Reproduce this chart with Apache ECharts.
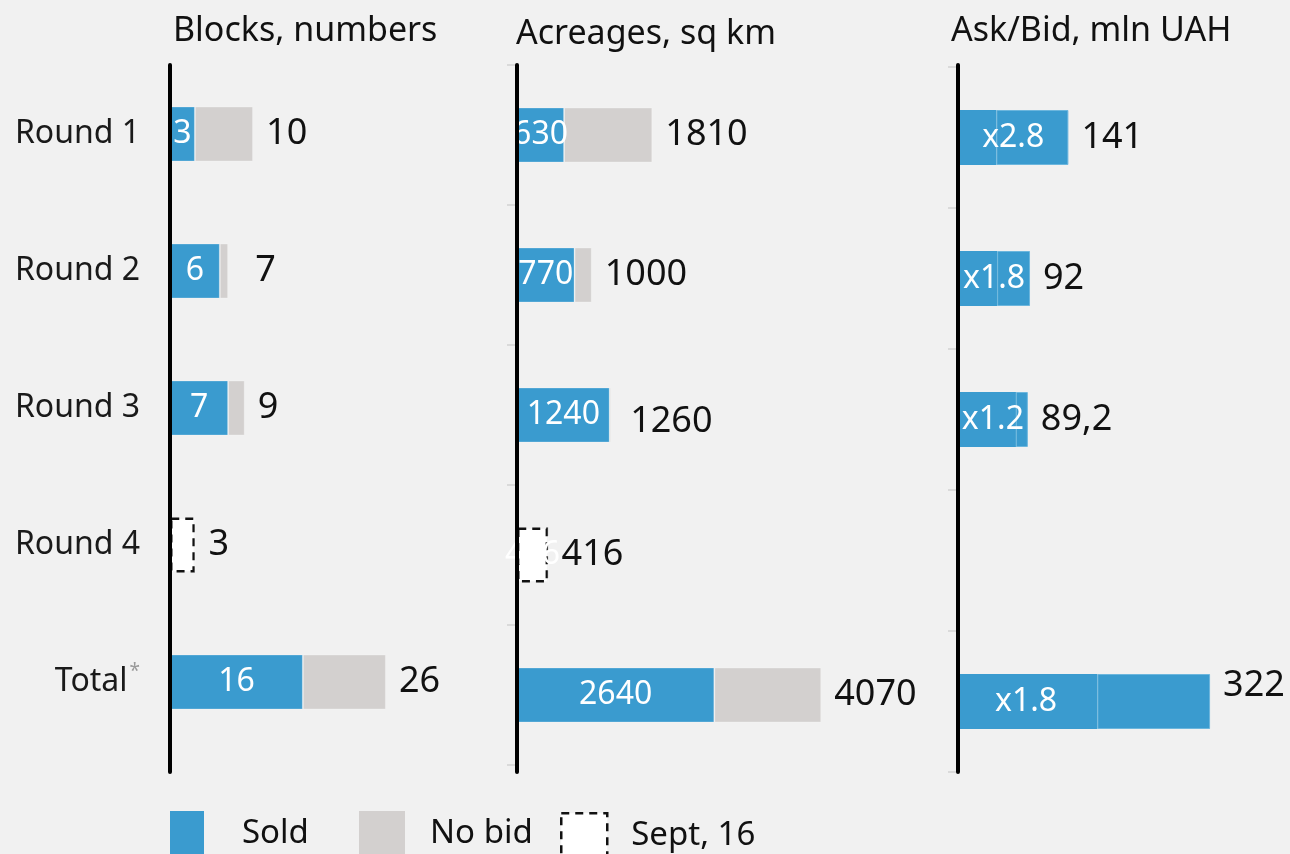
<!DOCTYPE html>
<html>
<head>
<meta charset="utf-8">
<title>Auction rounds</title>
<script src="https://cdn.jsdelivr.net/npm/echarts@6/dist/echarts.min.js"></script>
<style>
  html, body { margin: 0; padding: 0; background: #f1f1f1; }
  #chart { width: 1290px; height: 854px; }
</style>
</head>
<body>
<div id="chart"></div>
<script>
const categories = ['Round 1', 'Round 2', 'Round 3', 'Round 4', 'Total']

// Blocks, numbers
const blocksSold = [3, 6, 7, '-', 16]
const blocksNoBid = [7, 1, 2, 0, 10]
const blocksSept = ['-', '-', '-', 3, '-']
const blocksTotal = [10, 7, 9, 3, 26]

// Acreages, sq km
const acreSold = [630, 770, 1240, '-', 2640]
const acreNoBid = [1180, 230, 20, 0, 1430]
const acreSept = ['-', '-', '-', 416, '-']
const acreTotal = [1810, 1000, 1260, 416, 4070]

// Ask/Bid, mln UAH
const askStart = [49, 50, 74, '-', 178]
const bidTotal = [141, 92, 89.2, '-', 322]
const bidRatio = ['x2.8', 'x1.8', 'x1.2', '', 'x1.8']

const FONT = '"Noto Sans", "DejaVu Sans", sans-serif'
const BLUE = '#3a9bcf'
const GREY = '#d3d0cf'
const BAR_W = 55

const fmtNum = (v) => String(v).replace('.', ',')

const chart = echarts.init(document.getElementById('chart'))

// small per-bar nudges for the total labels, as in the original layout
const labelNudge = {
  '0-1': [14, 0],
  '1-2': [6, 7],
  '2-4': [0, -16],
}

const valueLabel = (panel, totals) => ({
  show: true,
  position: 'right',
  distance: 13,
  fontFamily: FONT,
  fontSize: 36,
  color: '#111',
  formatter: (p) => fmtNum(totals[p.dataIndex]),
})

const insideLabel = {
  show: true,
  position: 'inside',
  fontFamily: FONT,
  fontSize: 32,
  color: '#fff',
}

const withNudge = (panel, values) =>
  values.map((v, i) => {
    const off = labelNudge[panel + '-' + i]
    return off ? { value: v, label: { offset: off } } : v
  })

const soldStyle = { color: BLUE, borderColor: 'rgba(255,255,255,0.25)', borderWidth: 1 }
const noBidStyle = { color: GREY, borderColor: 'rgba(255,255,255,0.25)', borderWidth: 1 }
const septStyle = { color: '#fff', borderColor: '#111', borderWidth: 2.5, borderType: [8, 6] }

// three panels of bars + three grids holding only the black axis line
const barGrids = [
  { left: 170, top: 65.5, width: 328, height: 685 },
  { left: 517, top: 65, width: 370, height: 700 },
  { left: 958, top: 67, width: 310, height: 705 },
]
const lineX = [170, 517, 958]

const grid = barGrids.concat(lineX.map((x) => ({ left: x, top: 65, width: 10, height: 707 })))

const xAxis = [
  { gridIndex: 0, type: 'value', min: 0, max: 39.5, show: false },
  { gridIndex: 1, type: 'value', min: 0, max: 4950, show: false },
  { gridIndex: 2, type: 'value', min: 0, max: 396, show: false },
].concat(lineX.map((x, i) => ({ gridIndex: 3 + i, type: 'value', min: 0, max: 1, show: false })))

const catAxis = (i, showLabels, showTicks) => ({
  gridIndex: i,
  type: 'category',
  data: categories,
  inverse: true,
  axisLine: { show: false },
  axisTick: { show: showTicks, length: 10, lineStyle: { color: '#dadada', width: 2 } },
  splitLine: { show: false },
  axisLabel: {
    show: showLabels,
    margin: 30,
    fontFamily: FONT,
    fontSize: 32,
    color: '#1a1a1a',
    formatter: (v) => (v === 'Total' ? '{a|Total}{s|*}' : '{a|' + v + '}'),
    rich: {
      a: { fontFamily: FONT, fontSize: 32, color: '#1a1a1a' },
      s: { fontFamily: FONT, fontSize: 19, color: '#999', padding: [0, 0, 20, 2] },
    },
  },
})

const yAxis = [catAxis(0, true, false), catAxis(1, false, true), catAxis(2, false, true)].concat(
  lineX.map((x, i) => ({
    gridIndex: 3 + i,
    type: 'value',
    min: 0,
    max: 1,
    z: 10,
    axisLine: { show: true, onZero: false, lineStyle: { color: '#000', width: 4 } },
    axisTick: { show: false },
    axisLabel: { show: false },
    splitLine: { show: false },
  }))
)

const stackedPanel = (idx, sold, noBid, sept, totals) => [
  {
    name: 'Sold',
    type: 'bar',
    xAxisIndex: idx,
    yAxisIndex: idx,
    stack: 'p' + idx,
    barWidth: BAR_W,
    data: sold,
    itemStyle: soldStyle,
    label: insideLabel,
  },
  {
    name: 'Sept, 16',
    type: 'bar',
    xAxisIndex: idx,
    yAxisIndex: idx,
    stack: 'p' + idx,
    barWidth: BAR_W,
    data: sept,
    itemStyle: septStyle,
    label: insideLabel,
  },
  {
    name: 'No bid',
    type: 'bar',
    xAxisIndex: idx,
    yAxisIndex: idx,
    stack: 'p' + idx,
    barWidth: BAR_W,
    data: withNudge(idx, noBid),
    itemStyle: noBidStyle,
    label: valueLabel(idx, totals),
  },
]

const bidRest = bidTotal.map((t, i) => (t === '-' ? '-' : +(t - askStart[i]).toFixed(1)))

const series = [
  ...stackedPanel(0, blocksSold, blocksNoBid, blocksSept, blocksTotal),
  ...stackedPanel(1, acreSold, acreNoBid, acreSept, acreTotal),
  {
    name: 'Sold',
    type: 'bar',
    xAxisIndex: 2,
    yAxisIndex: 2,
    stack: 'bid',
    barWidth: BAR_W,
    barGap: '-100%',
    data: askStart,
    itemStyle: { color: BLUE },
  },
  {
    name: 'Sold',
    type: 'bar',
    xAxisIndex: 2,
    yAxisIndex: 2,
    stack: 'bid',
    barWidth: BAR_W,
    barGap: '-100%',
    data: withNudge(2, bidRest),
    itemStyle: { color: BLUE, borderColor: '#6cb6dd', borderWidth: 1 },
    label: {
      ...valueLabel(2, bidTotal),
      formatter: (p) => (bidTotal[p.dataIndex] === '-' ? '' : fmtNum(bidTotal[p.dataIndex])),
    },
  },
  {
    name: 'ratio',
    type: 'bar',
    xAxisIndex: 2,
    yAxisIndex: 2,
    barWidth: BAR_W,
    barGap: '-100%',
    z: 3,
    data: bidTotal.map((v, i) => ({
      value: v,
      label: i === 4 ? { offset: [-58, 0] } : undefined,
    })),
    itemStyle: { color: 'rgba(0,0,0,0)' },
    label: { ...insideLabel, formatter: (p) => bidRatio[p.dataIndex] },
    tooltip: { show: false },
  },
]

const titleStyle = { fontFamily: FONT, fontSize: 34, fontWeight: 'normal', color: '#111' }
const legendText = (pad) => ({ fontFamily: FONT, fontSize: 33, color: '#111', padding: [0, 0, 0, pad] })

const option = {
  backgroundColor: '#f1f1f1',
  animation: false,
  title: [
    { text: 'Blocks, numbers', left: 173, top: 14, padding: 0, textStyle: titleStyle },
    { text: 'Acreages, sq km', left: 516, top: 17, padding: 0, textStyle: titleStyle },
    { text: 'Ask/Bid, mln UAH', left: 951, top: 14, padding: 0, textStyle: titleStyle },
  ],
  legend: [
    {
      left: 170, top: 811, padding: 0, icon: 'rect', itemWidth: 34, itemHeight: 45,
      data: [{ name: 'Sold', itemStyle: { color: BLUE, borderWidth: 0 } }],
      textStyle: legendText(33),
    },
    {
      left: 359, top: 811, padding: 0, icon: 'rect', itemWidth: 46, itemHeight: 45,
      data: [{ name: 'No bid', itemStyle: { color: GREY, borderWidth: 0 } }],
      textStyle: legendText(20),
    },
    {
      left: 560, top: 812, padding: 0, icon: 'rect', itemWidth: 46, itemHeight: 44,
      data: [{ name: 'Sept, 16', itemStyle: septStyle }],
      textStyle: legendText(19),
    },
  ],
  grid,
  xAxis,
  yAxis,
  series,
}

chart.setOption(option)
</script>
</body>
</html>
